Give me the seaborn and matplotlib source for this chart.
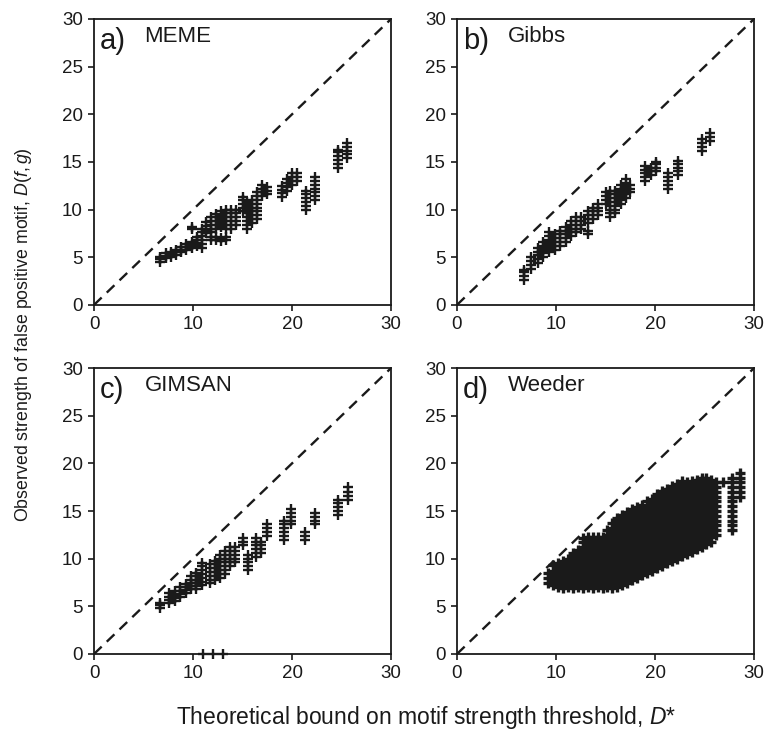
import matplotlib.pyplot as plt
import pandas as pd
import seaborn as sns

# each panel: x position of a column of points and the y values read in that column
meme_x = [6.7, 7.3, 7.8, 8.3, 8.8, 9.3, 9.9, 10.4, 10.9, 11.3, 11.8, 12.3, 12.8, 13.3, 13.8,
          14.3, 15.0, 15.5, 16.0, 16.5, 17.0, 17.5, 19.0, 19.5, 20.0, 20.5, 21.4, 22.3, 24.6, 25.6]
meme_y = [
    [4.5, 4.8, 5.0],
    [4.9, 5.1, 5.4],
    [5.0, 5.3, 5.6],
    [5.2, 5.5, 5.8],
    [5.5, 5.8, 6.1],
    [5.8, 6.1, 6.4],
    [6.0, 6.3, 6.6, 8.0, 8.2],
    [6.2, 6.5, 6.8, 7.1],
    [6.0, 6.4, 6.8, 7.2, 7.6, 8.0],
    [7.5, 7.9, 8.3, 8.7],
    [6.8, 7.1, 7.6, 8.0, 8.4, 8.8, 9.2],
    [6.8, 7.1, 8.0, 8.4, 8.8, 9.2, 9.5],
    [6.7, 7.0, 8.2, 8.6, 9.0, 9.4, 9.8],
    [6.8, 7.1, 8.0, 8.4, 8.8, 9.2, 9.6, 10.0],
    [8.0, 8.4, 8.8, 9.2, 9.6, 10.0],
    [8.4, 8.8, 9.2, 9.6, 10.0],
    [9.8, 10.2, 10.6, 11.0, 11.3],
    [8.0, 8.4, 8.8, 9.2, 9.6, 10.0, 10.4, 10.8],
    [8.6, 9.0, 9.4, 9.8, 10.2, 10.6, 11.0],
    [9.0, 9.4, 9.8, 10.2, 10.6, 11.0, 11.4, 11.8],
    [11.4, 11.8, 12.2, 12.6],
    [11.6, 12.0, 12.4],
    [11.3, 11.7, 12.1, 12.5],
    [12.0, 12.4, 12.8, 13.2],
    [12.6, 13.0, 13.4, 13.8],
    [13.0, 13.4, 13.8],
    [10.0, 10.4, 10.8, 11.2, 11.6, 12.0],
    [11.0, 11.4, 11.8, 12.2, 12.6, 13.0, 13.4],
    [14.4, 14.8, 15.2, 15.6, 16.0, 16.3],
    [15.4, 15.8, 16.2, 16.6, 17.0],
]

gibbs_x = [6.8, 7.5, 8.2, 8.7, 9.3, 9.9, 10.4, 11.0, 11.5, 12.0, 12.5, 13.2, 13.7, 14.2,
           15.0, 15.5, 16.0, 16.6, 17.1, 17.5, 19.0, 19.6, 20.1, 21.3, 22.3, 24.7, 25.6]
gibbs_y = [
    [2.6, 3.0, 3.4, 3.7],
    [3.8, 4.2, 4.6, 5.0],
    [4.4, 4.8, 5.2, 5.6, 6.0],
    [5.0, 5.4, 5.8, 6.2, 6.6],
    [5.6, 6.0, 6.4, 6.8, 7.2, 7.7],
    [5.8, 6.2, 6.6, 7.0, 7.4],
    [6.2, 6.6, 7.0, 7.4, 7.8],
    [6.6, 7.0, 7.4, 7.8, 8.2],
    [7.2, 7.6, 8.0, 8.4, 8.8],
    [7.6, 8.0, 8.4, 8.8, 9.2],
    [8.0, 8.4, 8.8, 9.2],
    [7.4, 7.8, 8.6, 9.0, 9.4, 9.8],
    [9.0, 9.4, 9.8, 10.2],
    [9.4, 9.8, 10.2, 10.6],
    [10.6, 11.0, 11.4, 11.8],
    [9.2, 9.6, 10.0, 10.4, 10.8, 11.2, 11.6, 12.0],
    [9.6, 10.0, 10.4, 10.8, 11.2, 11.6, 12.0],
    [10.6, 11.0, 11.4, 11.8, 12.2, 12.6],
    [11.2, 11.6, 12.0, 12.4, 12.8, 13.2],
    [11.8, 12.2, 12.6],
    [13.0, 13.4, 13.8, 14.2, 14.6],
    [13.6, 14.0, 14.4],
    [14.0, 14.4, 14.8, 15.0],
    [12.2, 12.6, 13.0, 13.4, 13.8],
    [13.6, 14.0, 14.4, 14.8, 15.1],
    [16.2, 16.6, 17.0, 17.4],
    [17.2, 17.6, 18.0],
]

gimsan_x = [6.7, 7.6, 8.2, 8.7, 9.3, 9.8, 10.3, 10.9, 11.7, 12.2, 12.7, 13.2, 13.7, 14.2,
            15.0, 15.6, 16.4, 16.9, 17.5, 19.2, 19.9, 21.3, 22.3, 24.6, 25.7, 11.0, 12.0, 13.0]
gimsan_y = [
    [4.8, 5.1, 5.3],
    [5.4, 5.7, 6.0, 6.4],
    [5.6, 5.9, 6.2, 6.6],
    [6.0, 6.3, 6.6, 7.0],
    [6.4, 6.7, 7.0, 7.3],
    [6.8, 7.1, 7.4, 7.8, 8.2],
    [6.8, 7.1, 7.4, 7.8, 8.2, 8.5],
    [7.2, 7.6, 8.0, 8.4, 8.8, 9.2, 9.5],
    [7.4, 7.8, 8.2, 8.6, 9.0, 9.4],
    [7.8, 8.2, 8.6, 9.0, 9.4, 9.8],
    [8.0, 8.4, 8.8, 9.2, 9.6, 10.0, 10.4],
    [8.4, 8.8, 9.2, 9.6, 10.0, 10.4, 10.8],
    [9.2, 9.6, 10.0, 10.4, 10.8, 11.2],
    [9.6, 10.0, 10.4, 10.8, 11.2],
    [11.4, 11.8, 12.2],
    [8.8, 9.2, 9.6, 10.0, 10.4],
    [10.2, 10.6, 11.0, 11.4, 11.8, 12.2],
    [10.6, 11.0, 11.4, 11.8],
    [12.4, 12.8, 13.2, 13.6],
    [12.0, 12.4, 12.8, 13.2, 13.6, 14.0],
    [13.6, 14.0, 14.4, 14.8, 15.2],
    [12.0, 12.4, 12.8],
    [13.6, 14.0, 14.4, 14.8],
    [14.6, 15.0, 15.4, 15.8, 16.2],
    [16.2, 16.6, 17.0, 17.5],
    [0.0],
    [0.0],
    [0.0],
]

weeder_x = [9.2, 9.7, 10.2, 10.7, 11.2, 11.7, 12.2, 12.7, 13.2, 13.7, 14.2, 14.7, 15.2, 15.7,
            16.2, 16.7, 17.2, 17.7, 18.2, 18.7, 19.2, 19.7, 20.2, 20.7, 21.2, 21.7, 22.2,
            22.7, 23.2, 23.7, 24.2, 24.7, 25.2, 25.7, 26.2, 26.9, 27.8, 28.6]
weeder_y = [
    [7.5, 8.0, 8.5],
    [7.25, 7.75, 8.25, 8.75, 9.3],
    [7.0, 7.5, 8.0, 8.5, 9.0, 9.5],
    [6.9, 7.25, 7.75, 8.25, 8.75, 9.25, 9.75],
    [7.0, 7.5, 8.0, 8.5, 9.0, 9.5, 10.0],
    [6.9, 7.25, 7.75, 8.25, 8.75, 9.25, 9.75, 10.25, 10.6],
    [7.0, 7.5, 8.0, 8.5, 9.0, 9.5, 10.0, 10.5, 10.9],
    [6.9, 7.25, 7.75, 8.25, 8.75, 9.25, 9.75, 10.25, 10.75, 11.25, 11.75, 12.2],
    [7.0, 7.5, 8.0, 8.5, 9.0, 9.5, 10.0, 10.5, 11.0, 11.5, 12.0, 12.25],
    [6.9, 7.25, 7.75, 8.25, 8.75, 9.25, 9.75, 10.25, 10.75, 11.25, 11.75, 12.25],
    [7.0, 7.5, 8.0, 8.5, 9.0, 9.5, 10.0, 10.5, 11.0, 11.5, 12.0, 12.25],
    [6.9, 7.25, 7.75, 8.25, 8.75, 9.25, 9.75, 10.25, 10.75, 11.25, 11.75, 12.25],
    [7.0, 7.5, 8.0, 8.5, 9.0, 9.5, 10.0, 10.5, 11.0, 11.5, 12.0, 12.5, 13.0],
    [6.9, 7.25, 7.75, 8.25, 8.75, 9.25, 9.75, 10.25, 10.75, 11.25, 11.75, 12.25, 12.75,
     13.25, 13.75],
    [7.0, 7.5, 8.0, 8.5, 9.0, 9.5, 10.0, 10.5, 11.0, 11.5, 12.0, 12.5, 13.0, 13.5, 14.0,
     14.3],
    [7.25, 7.75, 8.25, 8.75, 9.25, 9.75, 10.25, 10.75, 11.25, 11.75, 12.25, 12.75, 13.25,
     13.75, 14.25, 14.6],
    [7.5, 8.0, 8.5, 9.0, 9.5, 10.0, 10.5, 11.0, 11.5, 12.0, 12.5, 13.0, 13.5, 14.0, 14.5,
     14.9],
    [7.75, 8.25, 8.75, 9.25, 9.75, 10.25, 10.75, 11.25, 11.75, 12.25, 12.75, 13.25, 13.75,
     14.25, 14.75, 15.2],
    [8.0, 8.5, 9.0, 9.5, 10.0, 10.5, 11.0, 11.5, 12.0, 12.5, 13.0, 13.5, 14.0, 14.5, 15.0,
     15.4],
    [8.25, 8.75, 9.25, 9.75, 10.25, 10.75, 11.25, 11.75, 12.25, 12.75, 13.25, 13.75, 14.25,
     14.75, 15.25, 15.6],
    [8.5, 9.0, 9.5, 10.0, 10.5, 11.0, 11.5, 12.0, 12.5, 13.0, 13.5, 14.0, 14.5, 15.0, 15.5,
     16.0],
    [8.75, 9.25, 9.75, 10.25, 10.75, 11.25, 11.75, 12.25, 12.75, 13.25, 13.75, 14.25, 14.75,
     15.25, 15.75, 16.25],
    [9.0, 9.5, 10.0, 10.5, 11.0, 11.5, 12.0, 12.5, 13.0, 13.5, 14.0, 14.5, 15.0, 15.5, 16.0,
     16.5, 16.8],
    [9.25, 9.75, 10.25, 10.75, 11.25, 11.75, 12.25, 12.75, 13.25, 13.75, 14.25, 14.75, 15.25,
     15.75, 16.25, 16.75, 17.1],
    [9.5, 10.0, 10.5, 11.0, 11.5, 12.0, 12.5, 13.0, 13.5, 14.0, 14.5, 15.0, 15.5, 16.0, 16.5,
     17.0, 17.3],
    [9.75, 10.25, 10.75, 11.25, 11.75, 12.25, 12.75, 13.25, 13.75, 14.25, 14.75, 15.25,
     15.75, 16.25, 16.75, 17.25, 17.6],
    [10.0, 10.5, 11.0, 11.5, 12.0, 12.5, 13.0, 13.5, 14.0, 14.5, 15.0, 15.5, 16.0, 16.5,
     17.0, 17.5, 17.8],
    [10.25, 10.75, 11.25, 11.75, 12.25, 12.75, 13.25, 13.75, 14.25, 14.75, 15.25, 15.75,
     16.25, 16.75, 17.25, 17.75, 18.1],
    [10.5, 11.0, 11.5, 12.0, 12.5, 13.0, 13.5, 14.0, 14.5, 15.0, 15.5, 16.0, 16.5, 17.0,
     17.5, 18.0],
    [10.75, 11.25, 11.75, 12.25, 12.75, 13.25, 13.75, 14.25, 14.75, 15.25, 15.75, 16.25,
     16.75, 17.25, 17.75, 18.2],
    [11.0, 11.5, 12.0, 12.5, 13.0, 13.5, 14.0, 14.5, 15.0, 15.5, 16.0, 16.5, 17.0, 17.5,
     18.0, 18.3],
    [11.25, 11.75, 12.25, 12.75, 13.25, 13.75, 14.25, 14.75, 15.25, 15.75, 16.25, 16.75,
     17.25, 17.75, 18.25, 18.5],
    [11.5, 12.0, 12.5, 13.0, 13.5, 14.0, 14.5, 15.0, 15.5, 16.0, 16.5, 17.0, 17.5, 18.0,
     18.5],
    [11.75, 12.25, 12.75, 13.25, 13.75, 14.25, 14.75, 15.25, 15.75, 16.25, 16.75, 17.25,
     17.75, 18.25],
    [12.5, 13.0, 13.5, 14.0, 14.5, 15.0, 15.5, 16.0, 16.5, 17.0, 17.5, 18.0],
    [18.0],
    [13.0, 13.5, 14.0, 14.5, 15.0, 15.5, 16.0, 16.5, 17.0, 17.5, 18.0, 18.5],
    [16.5, 17.0, 17.5, 18.0, 18.5, 19.0],
]

panel_letters = ["a)", "b)", "c)", "d)"]
panel_names = ["MEME", "Gibbs", "GIMSAN", "Weeder"]
axis_ticks_x = [0, 10, 20, 30]
axis_ticks_y = [0, 5, 10, 15, 20, 25, 30]


def column_frame(xs, ys):
    """Flatten the per-column readings into one long table"""
    rows = [(x, y) for x, col in zip(xs, ys) for y in col]
    return pd.DataFrame(rows, columns=["bound", "observed"])


sns.set_style("ticks")
plt.rcParams["font.family"] = ["Liberation Sans", "DejaVu Sans"]
plt.rcParams["mathtext.fontset"] = "custom"
plt.rcParams["mathtext.rm"] = "Liberation Sans"
plt.rcParams["mathtext.it"] = "Liberation Sans:italic"

fig, axes = plt.subplots(2, 2, figsize=(7.68, 7.33), dpi=100)
fig.subplots_adjust(left=0.1224, right=0.9818, bottom=0.1078, top=0.9741,
                    wspace=0.222, hspace=0.221)

frames = [column_frame(meme_x, meme_y), column_frame(gibbs_x, gibbs_y),
          column_frame(gimsan_x, gimsan_y), column_frame(weeder_x, weeder_y)]
# the Weeder cloud is heavily overplotted in the original, so its strokes are heavier
stroke_widths = [1.7, 1.7, 1.7, 2.4]

for ax, df, letter, name, lw in zip(axes.flat, frames, panel_letters, panel_names,
                                    stroke_widths):
    ax.plot([0, 30], [0, 30], color="#1a1a1a", lw=1.7, ls=(0, (4.5, 3)), zorder=1)
    sns.scatterplot(data=df, x="bound", y="observed", marker="+", color="#1a1a1a",
                    s=50, linewidth=lw, ax=ax, zorder=3, clip_on=False)
    ax.set_xlim(0, 30)
    ax.set_ylim(0, 30)
    ax.set_xticks(axis_ticks_x)
    ax.set_yticks(axis_ticks_y)
    ax.set_xlabel("")
    ax.set_ylabel("")
    ax.tick_params(direction="out", length=4, width=1.2, labelsize=13.5, pad=4,
                   colors="#1a1a1a")
    for side in ax.spines.values():
        side.set_linewidth(1.3)
        side.set_color("#1a1a1a")
    ax.text(0.02, 0.895, letter, transform=ax.transAxes, fontsize=21, color="#1a1a1a")
    ax.text(0.17, 0.92, name, transform=ax.transAxes, fontsize=16, color="#1a1a1a")

fig.text(0.03, 0.543,
         r"Observed strength of false positive motif, $\mathit{D}(\mathit{f},\mathit{g})$",
         rotation=90, ha="center", va="center", fontsize=12.8, color="#1a1a1a")
fig.text(0.555, 0.021, r"Theoretical bound on motif strength threshold, $\mathit{D}$*",
         ha="center", va="center", fontsize=16.5, color="#1a1a1a")

fig.savefig("out.png", dpi=100)
